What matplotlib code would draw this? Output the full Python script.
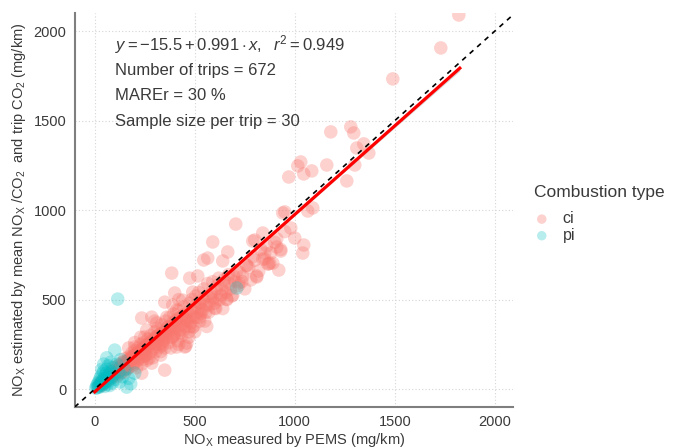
import numpy as np
import matplotlib.pyplot as plt

plt.rcParams['font.family'] = ['Liberation Sans', 'DejaVu Sans']
plt.rcParams['mathtext.fontset'] = 'custom'
plt.rcParams['mathtext.rm'] = 'Liberation Sans'
plt.rcParams['mathtext.it'] = 'Liberation Sans:italic'

# NOx per trip (mg/km)
ci_x = [20, 25, 30, 35, 40, 45, 50, 55, 60, 65, 70, 75, 80, 85, 90, 95, 100, 100, 105, 110,
        115, 120, 125, 130, 135, 140, 145, 150, 150, 155, 160, 165, 170, 175, 180, 185, 190, 195,
        200, 200, 205, 210, 215, 220, 225, 230, 235, 240, 245, 250, 255, 260, 265, 270, 275, 280,
        285, 290, 295, 300, 300, 305, 310, 315, 320, 325, 330, 335, 340, 345, 350, 355, 360, 365,
        370, 375, 380, 385, 390, 395, 400, 405, 410, 415, 420, 425, 430, 435, 440, 445, 450, 455,
        460, 465, 470, 475, 480, 485, 490, 495, 500, 505, 510, 520, 525, 530, 540, 545, 550, 560,
        565, 570, 580, 590, 600, 610, 620, 630, 640, 650, 660, 670, 680, 700, 710, 720, 740, 760,
        780, 800, 820, 850, 870, 900, 930,
        60, 80, 110, 130, 140, 160, 170, 190, 210, 230, 240, 250, 260, 280, 300, 320, 180, 220,
        120, 90, 270, 255, 235, 205, 175, 145, 330, 350, 370, 310, 290, 265, 245, 215, 195, 165,
        110, 125, 135, 145, 155, 165, 175, 185, 195, 205, 215, 225, 235, 245, 255, 265, 275, 285,
        295, 305, 315, 325, 335, 345, 355, 365, 375, 385, 395, 405, 415, 425, 435, 445, 455, 465,
        475, 485, 495, 505, 515, 525, 535, 545, 555, 565, 575, 585, 595, 605, 615, 625, 635, 645,
        655, 675, 685, 695, 725, 735, 750, 770, 790, 830, 860, 880, 950, 980, 420, 380, 470, 500,
        560, 330, 270, 240, 390, 420, 300, 260, 230, 200, 170,
        385, 475, 350, 400, 440, 490, 515, 590, 565, 545, 640, 665, 705, 790, 850, 760, 810, 665,
        720, 690, 660, 630, 590, 525, 540, 600, 525, 460, 410, 360, 310, 285, 490, 425, 390, 340,
        460, 410, 340, 300, 450, 235, 250, 335, 450, 200, 285, 350, 235,
        910, 910, 1000, 1045, 1040, 930, 840, 800, 840, 865, 890, 920, 810, 875, 950, 940, 1090,
        1065, 970, 1015, 1030, 1045, 1085, 1160, 1180, 1260, 1280, 1295, 1310, 1345, 1370, 1300,
        1490, 1730, 1820]
ci_y = [15, 30, 20, 40, 25, 50, 35, 60, 45, 70, 55, 85, 60, 95, 70, 105, 80, 120, 95, 70,
        130, 100, 85, 140, 110, 150, 120, 95, 170, 135, 150, 115, 180, 140, 160, 200, 130, 175,
        215, 150, 190, 120, 230, 170, 200, 250, 140, 210, 260, 185, 225, 160, 280, 240, 200, 300,
        260, 175, 230, 320, 270, 210, 290, 340, 250, 300, 190, 360, 280, 320, 230, 380, 300, 345,
        260, 400, 330, 290, 370, 420, 310, 350, 390, 270, 440, 330, 380, 300, 410, 460, 350, 240,
        390, 430, 320, 480, 370, 500, 410, 350, 450, 520, 400, 540, 480, 420, 500, 560, 380, 470,
        590, 430, 520, 600, 480, 560, 620, 520, 450, 580, 500, 640, 560, 600, 660, 580, 630, 690,
        610, 720, 660, 760, 700, 820, 780,
        55, 75, 100, 115, 130, 140, 165, 185, 195, 215, 225, 235, 245, 265, 285, 305, 175, 210,
        110, 85, 255, 240, 220, 195, 160, 135, 310, 330, 350, 295, 275, 250, 230, 200, 185, 155,
        90, 115, 95, 150, 110, 160, 125, 170, 140, 175, 160, 215, 180, 205, 190, 230, 250, 215,
        270, 250, 275, 235, 300, 270, 310, 290, 330, 350, 300, 380, 340, 400, 360, 330, 420, 380,
        350, 440, 400, 470, 430, 380, 450, 500, 430, 520, 470, 540, 510, 450, 580, 500, 560, 610,
        540, 590, 520, 630, 650, 600, 560, 680, 740, 780, 800, 760, 880, 900, 250, 230, 290, 320,
        350, 210, 170, 165, 470, 500, 380, 330, 290, 260, 230,
        648, 620, 486, 537, 497, 542, 632, 822, 732, 721, 716, 766, 922, 827, 727, 693, 626, 626,
        593, 525, 503, 525, 497, 481, 442, 453, 402, 386, 442, 402, 369, 402, 347, 313, 291, 313,
        257, 235, 246, 257, 402, 397, 291, 257, 235, 235, 145, 106, 89,
        839, 794, 844, 805, 760, 771, 872, 833, 727, 699, 704, 665, 632, 704, 990, 984, 1012,
        995, 1185, 1247, 1269, 1202, 1219, 1252, 1437, 1163, 1465, 1431, 1347, 1370, 1319, 1252,
        1733, 1906, 2090]

pi_x = [5, 10, 12, 15, 18, 20, 22, 25, 28, 30, 32, 35, 38, 40, 42, 45, 48, 50, 52, 55, 58,
        60, 62, 65, 68, 70, 72, 75, 78, 80, 85, 88, 90, 95, 100, 105, 110, 115, 120, 125, 130,
        140, 150, 160, 170, 200, 180, 710, 60, 45, 35]
pi_y = [5, 20, 8, 30, 15, 40, 10, 55, 25, 70, 35, 20, 85, 50, 30, 100, 60, 15, 75, 40, 110,
        90, 25, 60, 130, 45, 80, 20, 100, 150, 65, 35, 120, 85, 218, 55, 140, 503, 95, 40, 165,
        70, 110, 11, 60, 89, 30, 565, 175, 140, 110]

# fitted line y = a + b*x and its (narrow) confidence band
fit_a, fit_b = -15.5, 0.991
fit_x = [0, 500, 1000, 1500, 1825]
band_half = [9, 5, 6, 11, 15]

text_col = "#3a3a3a"
ci_col = "#F8766D"
pi_col = "#00BFC4"

fig = plt.figure(figsize=(6.73, 4.48), dpi=100)
ax = fig.add_axes([0.111, 0.0915, 0.651, 0.879])

ax.scatter(ci_x, ci_y, s=95, color=ci_col, alpha=0.33, edgecolors="none", label="ci", zorder=2)
ax.scatter(pi_x, pi_y, s=95, color=pi_col, alpha=0.28, edgecolors="none", label="pi", zorder=2)

fx = np.array(fit_x)
fy = fit_a + fit_b * fx
ax.fill_between(fx, fy - np.array(band_half), fy + np.array(band_half), color="#999999",
                alpha=0.4, linewidth=0, zorder=3)
ax.plot(fx, fy, color="red", lw=2.3, zorder=4)
ax.plot([-100, 2200], [-100, 2200], color="black", lw=1.2, ls=(0, (3, 3)), zorder=5)

ax.set_xlim(-100, 2090)
ax.set_ylim(-100, 2100)
ax.set_xticks([0, 500, 1000, 1500, 2000])
ax.set_yticks([0, 500, 1000, 1500, 2000])
ax.grid(True, color="#d5d5d5", ls=(0, (1, 2)), lw=0.8)
ax.set_axisbelow(True)
for s in ["top", "right"]:
    ax.spines[s].set_visible(False)
for s in ["left", "bottom"]:
    ax.spines[s].set_color("#7f7f7f")
    ax.spines[s].set_linewidth(1.5)
ax.tick_params(length=0, labelsize=10.5, labelcolor=text_col, pad=6)

ax.set_xlabel("NO$_{\\mathrm{X}}$ measured by PEMS (mg/km)", fontsize=10.5, color=text_col, labelpad=1)
ax.set_ylabel("NO$_{\\mathrm{X}}$ estimated by mean NO$_{\\mathrm{X}}$ /CO$_2$  and trip CO$_2$ (mg/km)",
              fontsize=10.5, color=text_col, labelpad=4)

lines = ["$y = -15.5 + 0.991 \\cdot x,\\ \\ r^2 = 0.949$",
         "Number of trips = 672",
         "MAREr = 30 %",
         "Sample size per trip = 30"]
for i, t in enumerate(lines):
    ax.text(0.093, 0.92 - i * 0.065, t, transform=ax.transAxes, fontsize=12,
            color=text_col, va="center", ha="left")

leg = ax.legend(title="Combustion type", loc="center left", bbox_to_anchor=(1.015, 0.49),
                frameon=False, fontsize=11.5, title_fontsize=12.5, handlelength=1.0,
                handletextpad=0.8, labelspacing=0.1, markerscale=0.7)
leg._legend_box.align = "left"
leg._legend_box.sep = 8
plt.setp(leg.get_texts(), color=text_col)
leg.get_title().set_color(text_col)

fig.savefig("out.png", dpi=100)
